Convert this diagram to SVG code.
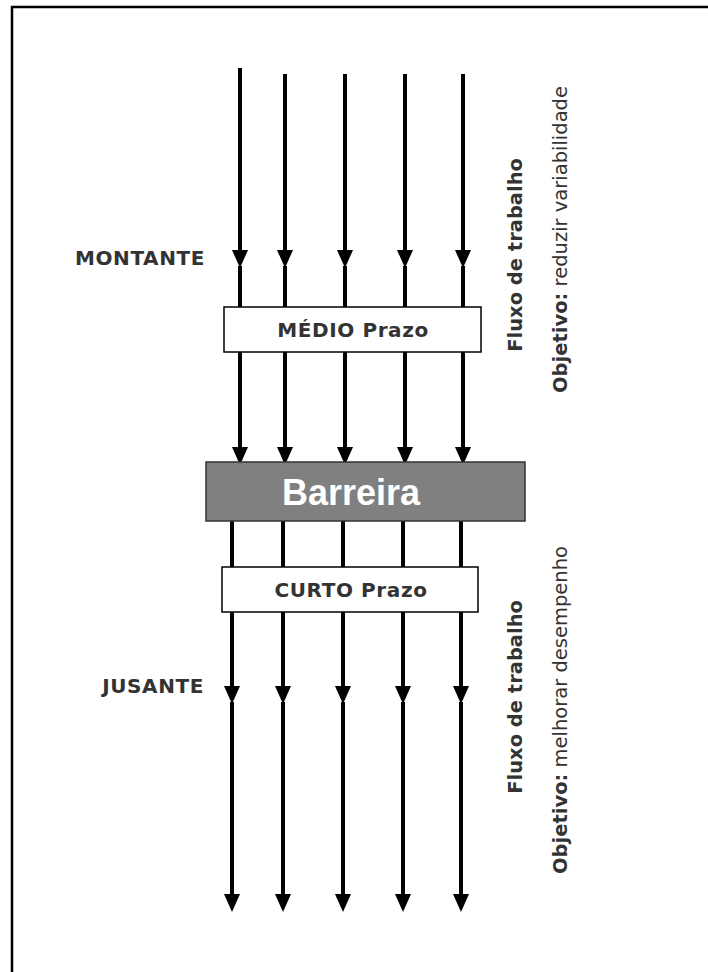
<svg xmlns="http://www.w3.org/2000/svg" width="708" height="972" viewBox="0 0 708 972">
  <style>
    .flow { stroke: #000; stroke-width: 4; fill: none; }
    .arr { marker-end: url(#head); }
    .box { fill: #fff; stroke: #000; stroke-width: 1.5; }
    .lbl { font-family: "DejaVu Sans", Verdana, sans-serif; font-weight: bold; font-size: 20px; letter-spacing: 0.6px; fill: #333; }
    .side { font-family: "DejaVu Sans", Verdana, sans-serif; font-size: 19.5px; fill: #333; }
    .b { font-weight: bold; }
  </style>
  <defs>
    <marker id="head" markerUnits="userSpaceOnUse" markerWidth="18" markerHeight="18" refX="0" refY="8" orient="auto" viewBox="0 0 18 16" overflow="visible">
      <path d="M0,0 L18,8 L0,16 z" fill="#000"/>
    </marker>
  </defs>
  <rect width="708" height="972" fill="#fff"/>
  <path d="M12,975 V7 H712" fill="none" stroke="#000" stroke-width="2.5"/>

  <g id="connectors">
    <!-- upstream -->
    <line class="flow arr" x1="240" y1="68" x2="240" y2="250"/>
    <line class="flow arr" x1="285" y1="74" x2="285" y2="250"/>
    <line class="flow arr" x1="345" y1="74" x2="345" y2="250"/>
    <line class="flow arr" x1="405" y1="74" x2="405" y2="250"/>
    <line class="flow arr" x1="463" y1="74" x2="463" y2="250"/>
    <line class="flow" x1="240" y1="266" x2="240" y2="307"/>
    <line class="flow" x1="285" y1="266" x2="285" y2="307"/>
    <line class="flow" x1="345" y1="266" x2="345" y2="307"/>
    <line class="flow" x1="405" y1="266" x2="405" y2="307"/>
    <line class="flow" x1="463" y1="266" x2="463" y2="307"/>
    <line class="flow arr" x1="240" y1="352" x2="240" y2="447"/>
    <line class="flow arr" x1="285" y1="352" x2="285" y2="447"/>
    <line class="flow arr" x1="345" y1="352" x2="345" y2="447"/>
    <line class="flow arr" x1="405" y1="352" x2="405" y2="447"/>
    <line class="flow arr" x1="463" y1="352" x2="463" y2="447"/>
    <!-- downstream -->
    <line class="flow" x1="232" y1="521" x2="232" y2="567"/>
    <line class="flow" x1="283" y1="521" x2="283" y2="567"/>
    <line class="flow" x1="343" y1="521" x2="343" y2="567"/>
    <line class="flow" x1="403" y1="521" x2="403" y2="567"/>
    <line class="flow" x1="461" y1="521" x2="461" y2="567"/>
    <line class="flow arr" x1="232" y1="612" x2="232" y2="686"/>
    <line class="flow arr" x1="283" y1="612" x2="283" y2="686"/>
    <line class="flow arr" x1="343" y1="612" x2="343" y2="686"/>
    <line class="flow arr" x1="403" y1="612" x2="403" y2="686"/>
    <line class="flow arr" x1="461" y1="612" x2="461" y2="686"/>
    <line class="flow arr" x1="232" y1="702" x2="232" y2="894"/>
    <line class="flow arr" x1="283" y1="702" x2="283" y2="894"/>
    <line class="flow arr" x1="343" y1="702" x2="343" y2="894"/>
    <line class="flow arr" x1="403" y1="702" x2="403" y2="894"/>
    <line class="flow arr" x1="461" y1="702" x2="461" y2="894"/>
  </g>

  <g id="medio">
    <rect class="box" x="224" y="307" width="257" height="45"/>
    <text class="lbl" x="353" y="337" text-anchor="middle">MÉDIO Prazo</text>
  </g>

  <g id="barreira">
    <rect x="206" y="462" width="319" height="59" fill="#808080" stroke="#333" stroke-width="1.5"/>
    <text x="351" y="505" text-anchor="middle" font-family="'Liberation Sans', Arial, sans-serif" font-weight="bold" font-size="36" fill="#fff">Barreira</text>
  </g>

  <g id="curto">
    <rect class="box" x="222" y="567" width="256" height="45"/>
    <text class="lbl" x="351" y="597" text-anchor="middle">CURTO Prazo</text>
  </g>

  <g id="montante">
    <text class="lbl" x="205" y="265" text-anchor="end">MONTANTE</text>
  </g>
  <g id="jusante">
    <text class="lbl" x="204" y="693" text-anchor="end">JUSANTE</text>
  </g>

  <g id="upper-notes">
    <text class="side b" transform="translate(522,158) rotate(-90)" text-anchor="end">Fluxo de trabalho</text>
    <text class="side" transform="translate(567,86) rotate(-90)" text-anchor="end"><tspan class="b">Objetivo:</tspan> reduzir variabilidade</text>
  </g>
  <g id="lower-notes">
    <text class="side b" transform="translate(522,600) rotate(-90)" text-anchor="end">Fluxo de trabalho</text>
    <text class="side" transform="translate(567,546) rotate(-90)" text-anchor="end"><tspan class="b">Objetivo:</tspan> melhorar desempenho</text>
  </g>
</svg>
